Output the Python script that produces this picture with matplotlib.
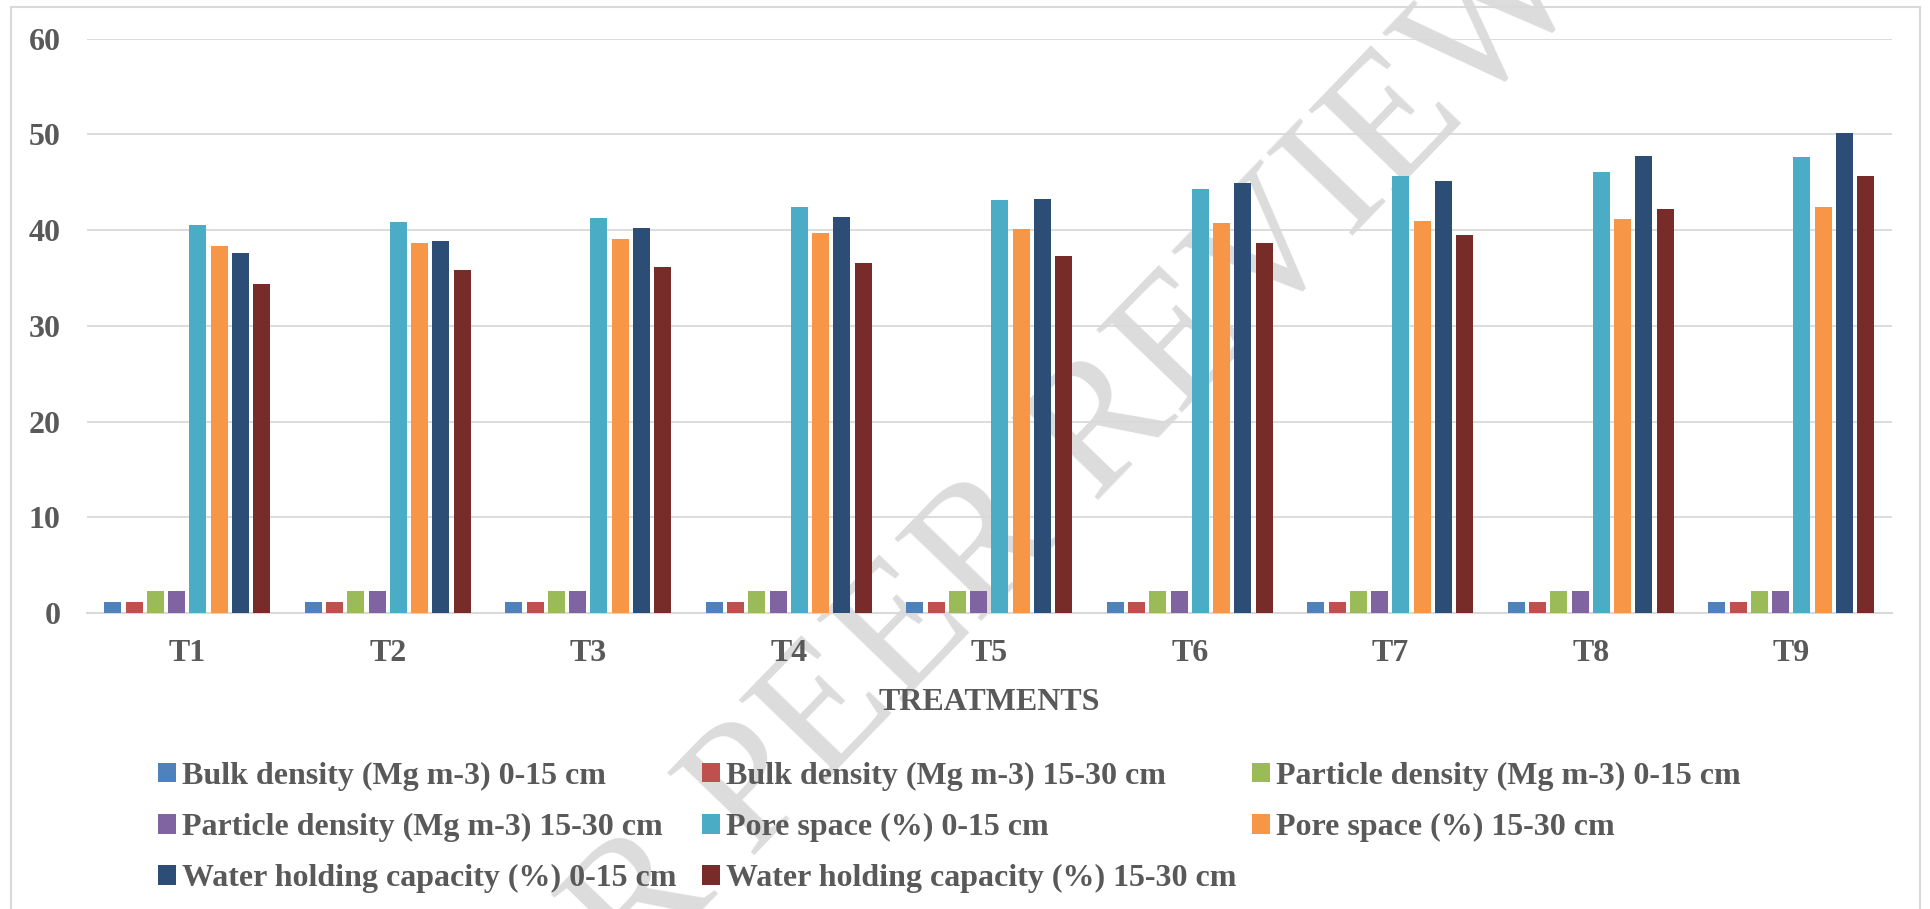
import matplotlib
matplotlib.use('Agg')
import matplotlib.pyplot as plt
import numpy as np
from matplotlib.patches import Rectangle, Patch

# values
treatments = ['T1', 'T2', 'T3', 'T4', 'T5', 'T6', 'T7', 'T8', 'T9']
series_names = [
    'Bulk density (Mg m-3) 0-15 cm',
    'Bulk density (Mg m-3) 15-30 cm',
    'Particle density (Mg m-3) 0-15 cm',
    'Particle density (Mg m-3) 15-30 cm',
    'Pore space (%) 0-15 cm',
    'Pore space (%) 15-30 cm',
    'Water holding capacity (%) 0-15 cm',
    'Water holding capacity (%) 15-30 cm',
]
bulk_0_15 = [1.2, 1.2, 1.2, 1.2, 1.2, 1.2, 1.2, 1.2, 1.2]
bulk_15_30 = [1.2, 1.2, 1.2, 1.2, 1.2, 1.2, 1.2, 1.2, 1.2]
particle_0_15 = [2.31, 2.31, 2.31, 2.31, 2.31, 2.31, 2.31, 2.31, 2.31]
particle_15_30 = [2.35, 2.35, 2.35, 2.35, 2.35, 2.35, 2.35, 2.35, 2.35]
pore_0_15 = [40.5, 40.9, 41.3, 42.4, 43.1, 44.3, 45.7, 46.1, 47.6]
pore_15_30 = [38.3, 38.7, 39.1, 39.7, 40.1, 40.8, 41.0, 41.2, 42.4]
whc_0_15 = [37.6, 38.9, 40.2, 41.4, 43.3, 44.9, 45.1, 47.7, 50.2]
whc_15_30 = [34.4, 35.8, 36.1, 36.6, 37.3, 38.7, 39.5, 42.2, 45.7]

series = [bulk_0_15, bulk_15_30, particle_0_15, particle_15_30,
          pore_0_15, pore_15_30, whc_0_15, whc_15_30]
colors = ['#4F81BD', '#C0504D', '#9BBB59', '#8064A2',
          '#4BACC6', '#F79646', '#2C4D75', '#772C2A']

txt = '#595959'
grid_c = '#D9D9D9'
font = 'Liberation Serif'

fig = plt.figure(figsize=(19.30, 9.09), dpi=100)
ax = fig.add_axes([0.0451, 0.3256, 0.9350, 0.6318])
ax.patch.set_visible(False)

x = np.arange(len(treatments))
pitch = 0.106
width = 0.085
for i, (vals, c) in enumerate(zip(series, colors)):
    ax.bar(x + (i - 3.5) * pitch, vals, width, color=c, zorder=3,
           label=series_names[i])

ax.set_xlim(-0.5, 8.5)
ax.set_ylim(0, 60)
ax.set_yticks(range(0, 61, 10))
ax.yaxis.grid(True, color=grid_c, linewidth=1.3, zorder=1)
ax.set_axisbelow(True)
for s in ['left', 'right', 'top']:
    ax.spines[s].set_visible(False)
ax.spines['bottom'].set_color(grid_c)
ax.spines['bottom'].set_linewidth(1.5)
ax.spines['bottom'].set_zorder(2)
ax.tick_params(length=0)
ax.tick_params(axis='y', pad=19)
ax.tick_params(axis='x', pad=19)
ax.set_xticks(x)
ax.set_xticklabels(treatments)
for lab in ax.get_xticklabels() + ax.get_yticklabels():
    lab.set_fontfamily(font)
    lab.set_fontweight('bold')
    lab.set_fontsize(23)
    lab.set_color(txt)

ax.set_xlabel('TREATMENTS', fontfamily=font, fontweight='bold',
              fontsize=23, color=txt, labelpad=14)

# legend laid out in three columns, row-major like the original
handles = [Patch(facecolor=c, edgecolor='none') for c in colors]
col_x = [158, 702, 1252]
for col in range(3):
    idx = list(range(col, len(series_names), 3))
    fig.legend([handles[k] for k in idx], [series_names[k] for k in idx],
               loc='upper left', bbox_to_anchor=(col_x[col] / 1930, 1 - 762 / 909),
               frameon=False, borderpad=0, borderaxespad=0,
               handlelength=0.55, handleheight=0.55, handletextpad=0.2,
               labelspacing=0.69,
               prop={'family': font, 'weight': 'bold', 'size': 23},
               labelcolor=txt)

# watermark
fig.text(0.468, 0.297, 'UNDER PEER REVIEW', fontfamily=font, fontsize=132,
         color='#DCDCDC', rotation=46, ha='center', va='center',
         rotation_mode='anchor', zorder=-1)

# outer chart border
fig.patches.append(Rectangle((11 / 1930, -0.01), 1909 / 1930, 0.01 + 902 / 909,
                             transform=fig.transFigure, fill=False,
                             edgecolor=grid_c, linewidth=1.5))

fig.savefig('out.png', dpi=100)
